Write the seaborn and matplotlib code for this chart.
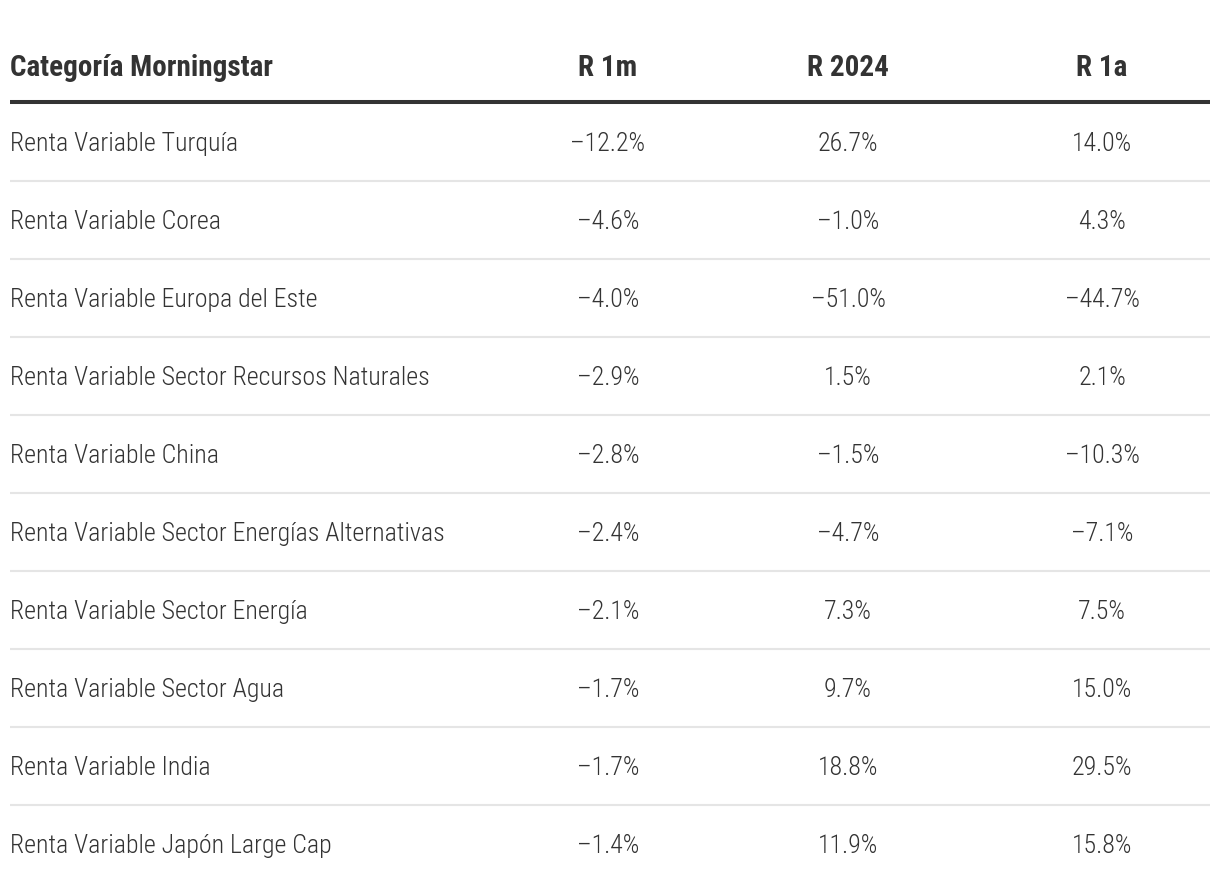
import matplotlib
matplotlib.use("Agg")
import matplotlib.pyplot as plt
from matplotlib import font_manager as fm
import seaborn as sns
import pandas as pd

# --- DATA ---
categories = [
    "Renta Variable Turquía",
    "Renta Variable Corea",
    "Renta Variable Europa del Este",
    "Renta Variable Sector Recursos Naturales",
    "Renta Variable China",
    "Renta Variable Sector Energías Alternativas",
    "Renta Variable Sector Energía",
    "Renta Variable Sector Agua",
    "Renta Variable India",
    "Renta Variable Japón Large Cap",
]
r_1m = [-12.2, -4.6, -4.0, -2.9, -2.8, -2.4, -2.1, -1.7, -1.7, -1.4]
r_2024 = [26.7, -1.0, -51.0, 1.5, -1.5, -4.7, 7.3, 9.7, 18.8, 11.9]
r_1a = [14.0, 4.3, -44.7, 2.1, -10.3, -7.1, 7.5, 15.0, 29.5, 15.8]
headers = ["Categoría Morningstar", "R 1m", "R 2024", "R 1a"]

df = pd.DataFrame({"cat": categories, "R 1m": r_1m, "R 2024": r_2024, "R 1a": r_1a})

# --- STYLE ---
sns.set_theme(style="white")
names = {f.name for f in fm.fontManager.ttflist}
family = "Roboto"
for cand in ["Roboto Condensed", "Liberation Sans Narrow", "Roboto"]:
    if cand in names:
        family = cand
        break
plt.rcParams["font.family"] = [family, "DejaVu Sans"]

TEXT = "#333333"
GRID = "#e5e5e5"

fig = plt.figure(figsize=(12.2, 8.92), dpi=100)
ax = fig.add_axes([0, 0, 1, 1])
ax.set_xlim(0, 1220)
# one unit per row, row 0 centred ~142px from the top, 78px spacing
ax.set_ylim((892 - 142) / 78, -142 / 78)
ax.set_axis_off()

col_x = [10, 608, 848, 1102]
x0, x1 = 10, 1210

# header
ax.text(col_x[0], -0.85, headers[0], ha="left", va="baseline",
        fontsize=21, fontweight="bold", color=TEXT)
for h, x in zip(headers[1:], col_x[1:]):
    ax.text(x, -0.85, h, ha="center", va="baseline",
            fontsize=21, fontweight="bold", color=TEXT)
ax.hlines(-0.513, x0, x1, color=TEXT, linewidth=2.9)

fmt = lambda v: f"{v:.1f}%".replace("-", "\u2013")

# rows
for i, row in df.iterrows():
    ax.text(col_x[0], i + 0.11, row["cat"], ha="left", va="baseline",
            fontsize=18.6, fontweight="light", color=TEXT)
    for col, x in zip(["R 1m", "R 2024", "R 1a"], col_x[1:]):
        ax.text(x, i + 0.11, fmt(row[col]), ha="center", va="baseline",
                fontsize=18.6, fontweight="light", color=TEXT)
    if i < len(df) - 1:
        ax.hlines(i + 0.5, x0, x1, color=GRID, linewidth=1.5)

fig.savefig("out.png", dpi=100)
